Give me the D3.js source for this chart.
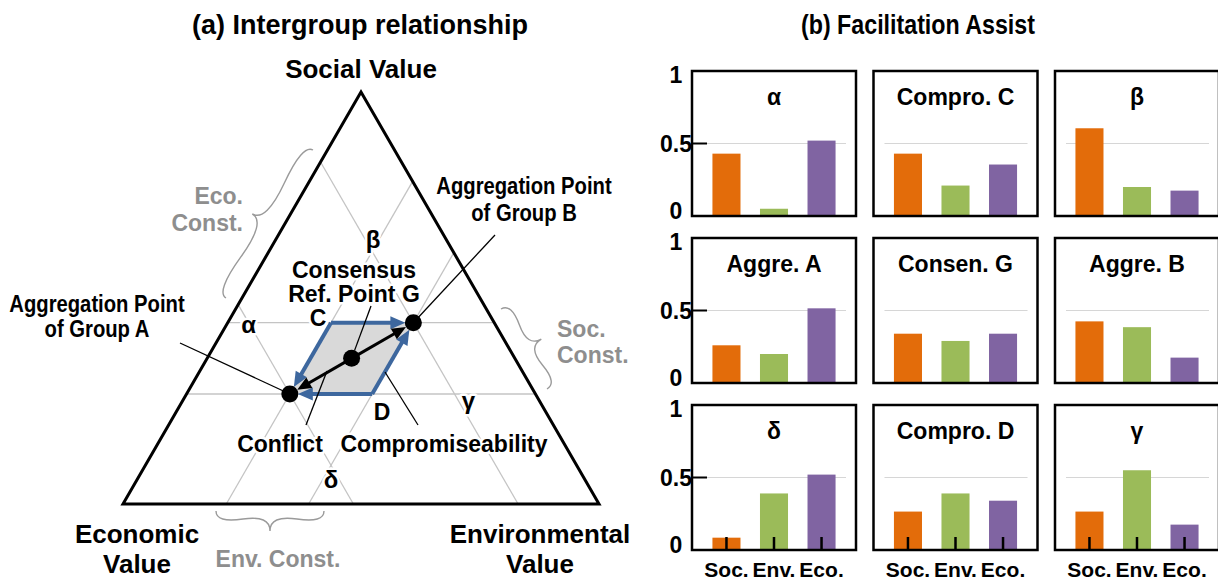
<!DOCTYPE html>
<html><head><meta charset="utf-8">
<script src="https://cdn.jsdelivr.net/npm/d3@7"></script>
<style>
body{margin:0;background:#fff;}
svg text{font-family:"Liberation Sans",Arial,Helvetica,sans-serif;font-weight:bold;}
</style></head><body>
<svg id="chart" width="1218" height="582"></svg>
<script>
// ================= DATA =================
// (a) ternary diagram: values read as shares (Social, Environmental); Economic = 1 - soc - env
const socGrid = [0.267, 0.44];
const envGrid = [0.217, 0.39];
const ecoGrid = [0.17, 0.516];
const pointNames = ["A", "B", "C", "D"];
const pointSoc = [0.267, 0.44, 0.44, 0.267];
const pointEnv = [0.217, 0.39, 0.217, 0.39];
const regionNames = ["α", "β", "γ", "δ"];
const regionSoc = [0.44, 0.613, 0.267, 0.094];
const regionEnv = [0.044, 0.217, 0.563, 0.39];

// (b) bar panels
const panelTitles = ["α", "Compro. C", "β", "Aggre. A", "Consen. G", "Aggre. B", "δ", "Compro. D", "γ"];
const categories = ["Soc.", "Env.", "Eco."];
const socValues = [0.43, 0.43, 0.605, 0.26, 0.34, 0.425, 0.085, 0.265, 0.265];
const envValues = [0.05, 0.21, 0.20, 0.20, 0.29, 0.385, 0.39, 0.39, 0.55];
const ecoValues = [0.52, 0.355, 0.175, 0.515, 0.34, 0.175, 0.52, 0.34, 0.175];
const yTicks = [0, 0.5, 1];

// ================= STYLE / LAYOUT =================
const colors = {"Soc.": "#e36c0a", "Env.": "#9bbb59", "Eco.": "#8064a2"};
const BLUE = "#3d679e", GRID = "#c4c4c4", GRAYTXT = "#8e8e8e";
const svg = d3.select("#chart");

// ---------- (a) ternary ----------
const T = {left: 123, right: 599, top: 92, base: 504};
const ySoc = d3.scaleLinear().domain([0, 1]).range([T.base, T.top]);
const xEnv = d3.scaleLinear().domain([0, 1]).range([0, T.right - T.left]);
const xShift = d3.scaleLinear().domain([0, 1]).range([0, (T.right - T.left) / 2]);
const proj = (s, e) => [T.left + xEnv(e) + xShift(s), ySoc(s)];

const ga = svg.append("g");
const line = d3.line();

// grid lines
const gridSegs = [];
socGrid.forEach(s => gridSegs.push([proj(s, 0), proj(s, 1 - s)]));
envGrid.forEach(e => gridSegs.push([proj(0, e), proj(1 - e, e)]));
ecoGrid.forEach(c => gridSegs.push([proj(0, 1 - c), proj(1 - c, 0)]));
ga.selectAll(".grid").data(gridSegs).join("path")
  .attr("d", d => line(d)).attr("stroke", GRID).attr("stroke-width", 1.3).attr("fill", "none");

const P = {};
pointNames.forEach((n, i) => P[n] = proj(pointSoc[i], pointEnv[i]));
P.G = [(P.A[0] + P.B[0]) / 2, (P.A[1] + P.B[1]) / 2];

// shaded parallelogram
ga.append("path").attr("d", line([P.A, P.C, P.B, P.D]) + "Z").attr("fill", "#d9d9d9").attr("stroke", "none");

function arrow(g, from, to, back, color, w, hl, hw) {
  const dx = to[0] - from[0], dy = to[1] - from[1], L = Math.hypot(dx, dy);
  const ux = dx / L, uy = dy / L;
  const tip = [to[0] - ux * back, to[1] - uy * back];
  const baseP = [tip[0] - ux * hl, tip[1] - uy * hl];
  g.append("path").attr("d", line([from, [baseP[0] + ux * 2, baseP[1] + uy * 2]]))
    .attr("stroke", color).attr("stroke-width", w).attr("fill", "none");
  g.append("path").attr("d", line([tip, [baseP[0] - uy * hw / 2, baseP[1] + ux * hw / 2], [baseP[0] + uy * hw / 2, baseP[1] - ux * hw / 2]]) + "Z")
    .attr("fill", color);
}
// blue compromise edges
[["C", "A"], ["C", "B"], ["D", "A"], ["D", "B"]].forEach(([f, t]) => arrow(ga, P[f], P[t], 8, BLUE, 4, 15, 13));
// black conflict double arrow
arrow(ga, P.G, P.A, 8.5, "#000", 3, 14, 12);
arrow(ga, P.G, P.B, 8.5, "#000", 3, 14, 12);

// leader lines
const leaders = [
  [[180, 343], P.A],
  [[495, 235], P.B],
  [[371, 306], [P.G[0] + 3, P.G[1] - 8]],
  [[306, 425], [327, 371]],
  [[418, 425], [385, 372]]
];
ga.selectAll(".lead").data(leaders).join("path").attr("d", d => line(d))
  .attr("stroke", "#000").attr("stroke-width", 1.3).attr("fill", "none");

// dots
ga.selectAll(".dot").data([P.A, P.G, P.B]).join("circle")
  .attr("cx", d => d[0]).attr("cy", d => d[1]).attr("r", 8.5).attr("fill", "#000");

// triangle outline
ga.append("path").attr("d", line([proj(1, 0), proj(0, 0), proj(0, 1)]) + "Z")
  .attr("fill", "none").attr("stroke", "#000").attr("stroke-width", 3).attr("stroke-linejoin", "miter");

// braces
function brace(x1, y1, x2, y2, w, q) {
  let dx = x1 - x2, dy = y1 - y2; const len = Math.hypot(dx, dy); dx /= len; dy /= len;
  const qx1 = x1 + q * w * dy, qy1 = y1 - q * w * dx;
  const qx2 = (x1 - .25 * len * dx) + (1 - q) * w * dy, qy2 = (y1 - .25 * len * dy) - (1 - q) * w * dx;
  const tx = (x1 - .5 * len * dx) + w * dy, ty = (y1 - .5 * len * dy) - w * dx;
  const qx3 = x2 + q * w * dy, qy3 = y2 - q * w * dx;
  const qx4 = (x1 - .75 * len * dx) + (1 - q) * w * dy, qy4 = (y1 - .75 * len * dy) - (1 - q) * w * dx;
  return `M${x1},${y1}Q${qx1},${qy1} ${qx2},${qy2}T${tx},${ty}M${x2},${y2}Q${qx3},${qy3} ${qx4},${qy4}T${tx},${ty}`;
}
[[313, 150, 226, 298], [547, 389, 501, 309], [216, 511, 324, 511]].forEach(b =>
  ga.append("path").attr("d", brace(b[0], b[1], b[2], b[3], 20, 0.6))
    .attr("fill", "none").attr("stroke", "#9a9a9a").attr("stroke-width", 1.4));

// texts
function txt(g, x, y, s, size, opts = {}) {
  const t = g.append("text").attr("x", x).attr("y", y).text(s)
    .attr("font-size", size).attr("text-anchor", opts.anchor || "middle")
    .attr("fill", opts.fill || "#000");
  if (opts.halo) t.attr("stroke", "#fff").attr("stroke-width", 5).attr("paint-order", "stroke").attr("stroke-linejoin", "round");
  if (opts.squeeze) {
    const L = t.node().getComputedTextLength();
    t.attr("textLength", L * opts.squeeze).attr("lengthAdjust", "spacingAndGlyphs");
  }
  return t;
}
txt(svg, 360, 34, "(a) Intergroup relationship", 27);
txt(svg, 918, 34, "(b) Facilitation Assist", 27, {squeeze: 0.86});
txt(ga, 361, 78, "Social Value", 26);
txt(ga, 137, 543, "Economic", 26); txt(ga, 137, 573, "Value", 26);
txt(ga, 540, 543, "Environmental", 26); txt(ga, 540, 573, "Value", 26);
txt(ga, 243, 204, "Eco.", 23, {anchor: "end", fill: GRAYTXT});
txt(ga, 243, 231, "Const.", 23, {anchor: "end", fill: GRAYTXT});
txt(ga, 557, 337, "Soc.", 23, {anchor: "start", fill: GRAYTXT});
txt(ga, 557, 363, "Const.", 23, {anchor: "start", fill: GRAYTXT});
txt(ga, 278, 567, "Env. Const.", 23, {fill: GRAYTXT});
txt(ga, 524, 194, "Aggregation Point", 23, {squeeze: 0.88}); txt(ga, 524, 221, "of Group B", 23, {squeeze: 0.88});
txt(ga, 97, 312, "Aggregation Point", 23, {squeeze: 0.88}); txt(ga, 97, 337, "of Group A", 23, {squeeze: 0.88});
txt(ga, 354, 278, "Consensus", 23, {halo: true}); txt(ga, 354, 302, "Ref. Point G", 23, {halo: true});
txt(ga, 280, 452, "Conflict", 23, {halo: true});
txt(ga, 444, 452, "Compromiseability", 23, {halo: true});
// point / region labels (pixel offsets from their ternary position)
const regionOffsets = [[0, 10], [1, -3], [14, 15], [0, 23]];
regionNames.forEach((n, i) => {
  const p = proj(regionSoc[i], regionEnv[i]);
  txt(ga, p[0] + regionOffsets[i][0], p[1] + regionOffsets[i][1], n, 24, {halo: true});
});
txt(ga, P.C[0] - 13, P.C[1] + 3, "C", 23, {halo: true});
txt(ga, P.D[0] + 10, P.D[1] + 26, "D", 23, {halo: true});

// ---------- (b) bar panels ----------
const colX = [692, 873.5, 1055], rowY = [71, 238, 405], pW = 164, pH = 145;
const xb = d3.scaleBand().domain(categories).range([0, pW]).paddingInner(0.41).paddingOuter(0.43);
const yb = d3.scaleLinear().domain([0, 1]).range([pH, 0]);
const valuesBySeries = {"Soc.": socValues, "Env.": envValues, "Eco.": ecoValues};

panelTitles.forEach((title, i) => {
  const r = Math.floor(i / 3), c = i % 3;
  const g = svg.append("g").attr("transform", `translate(${colX[c]},${rowY[r]})`);
  g.append("line").attr("x1", 11).attr("x2", pW - 10).attr("y1", yb(0.5)).attr("y2", yb(0.5))
    .attr("stroke", "#d6d6d6").attr("stroke-width", 1.2);
  g.selectAll("rect.bar").data(categories).join("rect").attr("class", "bar")
    .attr("x", d => xb(d)).attr("width", xb.bandwidth())
    .attr("y", d => yb(valuesBySeries[d][i])).attr("height", d => yb(0) - yb(valuesBySeries[d][i]))
    .attr("fill", d => colors[d]);
  if (r === 2) {
    const ax = g.append("g").attr("transform", `translate(0,${pH})`)
      .call(d3.axisBottom(xb).tickSize(-13).tickPadding(16));
    ax.select(".domain").remove();
    ax.selectAll(".tick line").attr("stroke", "#000").attr("stroke-width", 2.5);
    ax.selectAll(".tick text").attr("font-size", 21).attr("font-family", "Liberation Sans, Arial, sans-serif")
      .attr("font-weight", "bold").attr("fill", "#000").attr("dy", "0.71em").attr("y", 12);
  }
  if (c === 0) {
    const ay = g.append("g").call(d3.axisLeft(yb).tickValues(yTicks).tickSize(0).tickFormat(d => String(d)));
    ay.select(".domain").remove();
    ay.selectAll(".tick text").attr("font-size", 23).attr("font-family", "Liberation Sans, Arial, sans-serif")
      .attr("font-weight", "bold").attr("fill", "#000").attr("text-anchor", "middle").attr("x", -16)
      .attr("dy", d => d === 1 ? "0.5em" : d === 0 ? "0.12em" : "0.35em");
    g.append("line").attr("x1", 0).attr("x2", 15).attr("y1", yb(0.5)).attr("y2", yb(0.5))
      .attr("stroke", "#000").attr("stroke-width", 2);
  }
  g.append("rect").attr("x", 0).attr("y", 0).attr("width", pW).attr("height", pH)
    .attr("fill", "none").attr("stroke", "#000").attr("stroke-width", 2.5);
  g.append("text").attr("x", pW / 2).attr("y", 34).attr("text-anchor", "middle")
    .attr("font-size", 23).text(title);
});
</script>
</body></html>
